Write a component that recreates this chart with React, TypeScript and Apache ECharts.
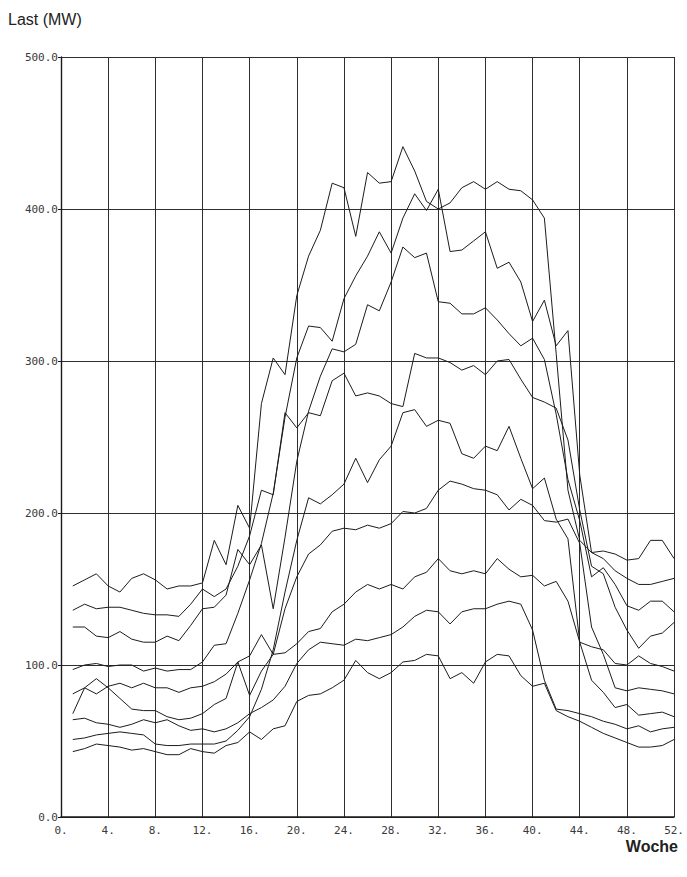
import React, { useEffect, useRef } from "react";
import * as echarts from "echarts";

// Kalenderwochen (x)
const weeks = [
  1, 2, 3, 4, 5, 6, 7, 8, 9, 10, 11, 12, 13, 14, 15, 16, 17, 18, 19, 20, 21, 22, 23, 24, 25, 26,
  27, 28, 29, 30, 31, 32, 33, 34, 35, 36, 37, 38, 39, 40, 41, 42, 43, 44, 45, 46, 47, 48, 49, 50, 51, 52,
];

// Last (MW) je Woche, neun Kurven
const curve1 = [
  152, 156, 160, 152, 148, 157, 160, 156, 150, 152, 152, 154,
  182, 166, 205, 190, 272, 302, 291, 343, 369, 386, 417, 414,
  382, 424, 417, 418, 441, 425, 405, 400, 404, 414, 418, 413,
  418, 413, 412, 406, 394, 305, 215, 182, 174, 175, 173, 169,
  170, 182, 182, 170,
];
const curve2 = [
  97, 100, 101, 99, 100, 100, 96, 98, 96, 97, 97, 102,
  113, 114, 134, 156, 180, 213, 263, 302, 323, 322, 313, 341,
  356, 369, 385, 371, 394, 410, 399, 413, 372, 373, 379, 385,
  361, 365, 352, 326, 340, 310, 320, 225, 174, 170, 162, 157,
  153, 153, 155, 157,
];
const curve3 = [
  125, 125, 119, 118, 122, 117, 115, 115, 119, 116, 126, 137,
  138, 146, 176, 166, 179, 137, 184, 234, 267, 290, 308, 306,
  311, 337, 333, 352, 375, 368, 371, 339, 338, 331, 331, 335,
  327, 318, 310, 315, 301, 265, 222, 195, 158, 164, 153, 139,
  136, 142, 142, 135,
];
const curve4 = [
  136, 140, 137, 138, 138, 136, 134, 133, 133, 132, 140, 150,
  145, 150, 165, 185, 215, 212, 266, 256, 266, 264, 287, 292,
  277, 279, 277, 272, 270, 305, 302, 302, 299, 294, 297, 291,
  300, 301, 288, 276, 273, 269, 248, 202, 165, 160, 138, 123,
  111, 119, 121, 128,
];
const curve5 = [
  51, 52, 54, 55, 56, 55, 54, 48, 47, 47, 48, 48,
  48, 50, 57, 66, 84, 110, 148, 182, 210, 206, 212, 219,
  236, 220, 235, 244, 266, 268, 257, 261, 259, 239, 236, 244,
  241, 257, 236, 216, 223, 196, 183, 115, 112, 110, 101, 100,
  106, 101, 99, 96,
];
const curve6 = [
  81, 85, 81, 86, 88, 85, 88, 85, 85, 82, 85, 86,
  89, 94, 102, 106, 120, 107, 137, 158, 173, 179, 188, 190,
  189, 192, 190, 193, 201, 200, 203, 215, 221, 219, 216, 215,
  212, 202, 209, 205, 195, 194, 196, 180, 125, 107, 85, 83,
  85, 84, 83, 81,
];
const curve7 = [
  68, 85, 91, 85, 78, 71, 70, 70, 66, 64, 65, 68,
  74, 78, 102, 80, 96, 107, 108, 114, 122, 124, 135, 140,
  148, 153, 150, 153, 150, 158, 161, 170, 162, 160, 162, 160,
  170, 163, 158, 159, 152, 155, 142, 115, 90, 82, 72, 74,
  67, 68, 69, 66,
];
const curve8 = [
  64, 65, 62, 61, 59, 61, 64, 62, 64, 60, 57, 58,
  56, 58, 62, 68, 72, 77, 86, 101, 110, 115, 114, 113,
  117, 116, 118, 120, 125, 132, 136, 135, 127, 135, 137, 137,
  140, 142, 140, 123, 90, 71, 70, 68, 66, 63, 61, 58,
  60, 56, 58, 59,
];
const curve9 = [
  43, 45, 48, 47, 46, 44, 45, 43, 41, 41, 45, 43,
  42, 47, 49, 56, 51, 58, 60, 76, 80, 81, 85, 90,
  103, 95, 91, 95, 102, 103, 107, 106, 91, 95, 88, 102,
  107, 106, 93, 86, 88, 70, 66, 63, 59, 55, 52, 49,
  46, 46, 47, 51,
];

const curves = [curve1, curve2, curve3, curve4, curve5, curve6, curve7, curve8, curve9];

const xTickLabels = ["0.", "4.", "8.", "12.", "16.", "20.", "24.", "28.", "32.", "36.", "40.", "44.", "48.", "52."];
const yTickLabels = ["0.0", "100.0", "200.0", "300.0", "400.0", "500.0"];

const yTitle = "Last (MW)";
const xTitle = "Woche";

export default function App() {
  const ref = useRef<HTMLDivElement>(null);

  useEffect(() => {
    document.body.style.margin = "0";
    const chart = echarts.init(ref.current as HTMLDivElement, null, { renderer: "svg" });
    const tickFont = "'DejaVu Sans Mono', monospace";
    chart.setOption({
      animation: false,
      backgroundColor: "#ffffff",
      grid: { left: 61, right: 9, top: 57, bottom: 60, containLabel: false },
      xAxis: {
        type: "value",
        min: 0,
        max: 52,
        interval: 4,
        axisLine: { show: true, onZero: false, lineStyle: { color: "#1a1a1a", width: 1.6 } },
        axisTick: { show: false },
        axisLabel: {
          formatter: (v: number) => xTickLabels[Math.round(v / 4)],
          fontFamily: tickFont,
          fontSize: 11,
          color: "#3a3a3a",
          margin: 8,
        },
        splitLine: { show: true, lineStyle: { color: "#2e2e2e", width: 1 } },
      },
      yAxis: {
        type: "value",
        min: 0,
        max: 500,
        interval: 100,
        axisLine: { show: true, onZero: false, lineStyle: { color: "#1a1a1a", width: 1.4 } },
        axisTick: { show: true, length: 3, lineStyle: { color: "#1a1a1a" } },
        axisLabel: {
          formatter: (v: number) => yTickLabels[Math.round(v / 100)],
          fontFamily: tickFont,
          fontSize: 11,
          color: "#3a3a3a",
          margin: 3,
        },
        splitLine: { show: true, lineStyle: { color: "#2e2e2e", width: 1 } },
      },
      series: curves.map((c, i) => ({
        name: "Kurve " + (i + 1),
        type: "line",
        data: weeks.map((w, j) => [w, c[j]]),
        symbol: "none",
        showSymbol: false,
        silent: true,
        lineStyle: { color: "#1c1c1c", width: 1 },
      })),
      graphic: [
        {
          type: "text",
          left: 8,
          top: 11,
          style: {
            text: yTitle,
            font: "16px 'Liberation Sans', Arial, sans-serif",
            fill: "#222",
          },
        },
        {
          type: "text",
          right: 9,
          top: 838,
          style: {
            text: xTitle,
            font: "bold 16px 'Liberation Sans', Arial, sans-serif",
            fill: "#222",
          },
        },
      ],
    });
    return () => chart.dispose();
  }, []);

  return <div ref={ref} style={{ width: 687, height: 877 }} />;
}
